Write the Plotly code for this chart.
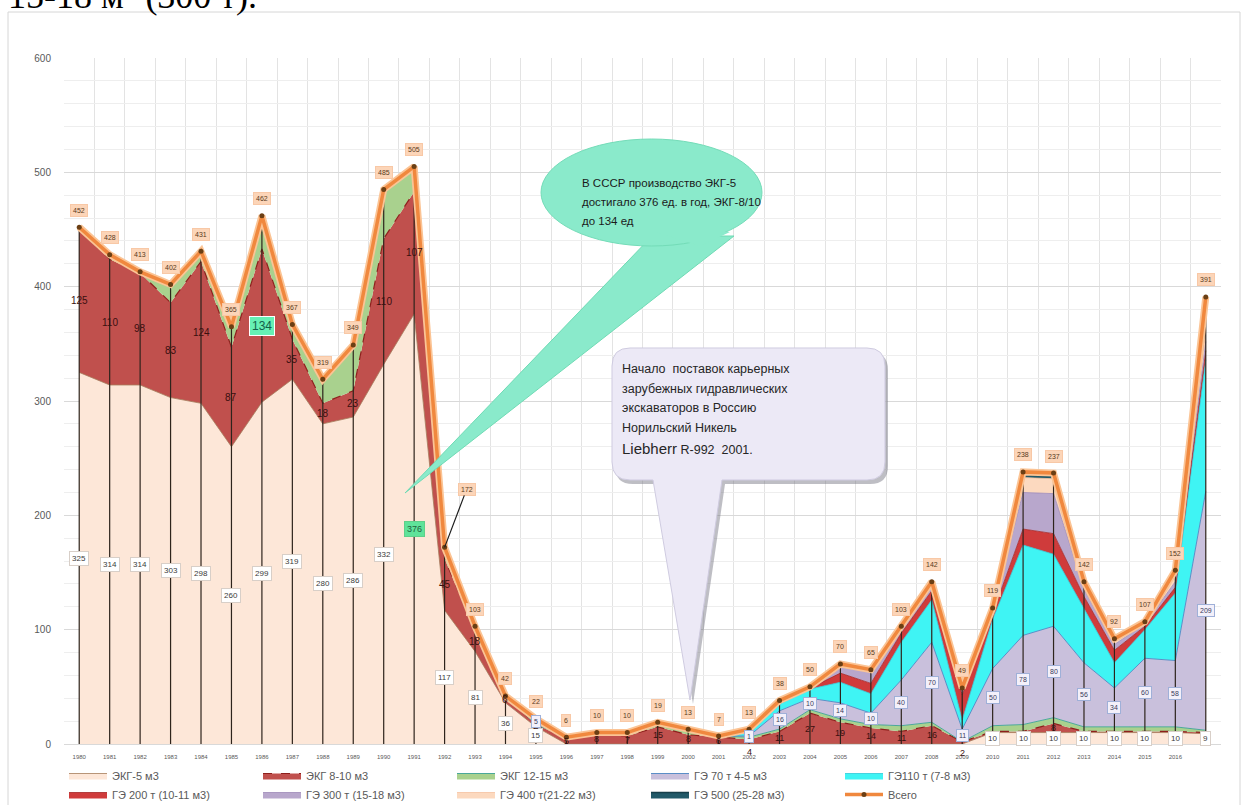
import plotly.graph_objects as go

# ---------------- data ----------------
years = [1980, 1981, 1982, 1983, 1984, 1985, 1986, 1987, 1988, 1989,
         1990, 1991, 1992, 1993, 1994, 1995, 1996, 1997, 1998, 1999,
         2000, 2001, 2002, 2003, 2004, 2005, 2006, 2007, 2008, 2009,
         2010, 2011, 2012, 2013, 2014, 2015, 2016, 2017]
tick_labels = ["1980", "1981", "1982", "1983", "1984", "1985", "1986", "1987", "1988", "1989",
               "1990", "1991", "1992", "1993", "1994", "1995", "1996", "1997", "1998", "1999",
               "2000", "2001", "2002", "2003", "2004", "2005", "2006", "2007", "2008", "2009",
               "2010", "2011", "2012", "2013", "2014", "2015", "2016", ""]

ekg5 = [325, 314, 314, 303, 298, 260, 299, 319, 280, 286, 332, 376, 117, 81, 36, 15,
        0, 0, 0, 0, 0, 0, 0, 0, 0, 0, 0, 0, 0, 0,
        10, 10, 10, 10, 10, 10, 10, 9]
ekg810 = [125, 110, 98, 83, 124, 87, 134, 35, 18, 23, 110, 107, 45, 18, 6, 2,
          5, 8, 7, 15, 8, 6, 4, 11, 27, 19, 14, 11, 16, 2,
          1, 1, 8, 1, 1, 1, 1, 1]
ekg1215 = [2, 4, 1, 16, 9, 18, 29, 13, 21, 40, 43, 22, 10, 4, 0, 0,
           1, 2, 3, 4, 5, 1, 2, 2, 3, 3, 3, 5, 3, 0,
           5, 6, 5, 4, 4, 4, 4, 2]
ge70 = [0, 0, 0, 0, 0, 0, 0, 0, 0, 0, 0, 0, 0, 0, 0, 5,
        0, 0, 0, 0, 0, 0, 1, 16, 10, 14, 10, 40, 70, 11,
        50, 78, 80, 56, 34, 60, 58, 209]
ge110 = [0, 0, 0, 0, 0, 0, 0, 0, 0, 0, 0, 0, 0, 0, 0, 0,
         0, 0, 0, 0, 0, 0, 3, 6, 8, 18, 17, 33, 37, 8,
         43, 79, 63, 48, 22, 25, 59, 115]
ge200 = [0, 0, 0, 0, 0, 0, 0, 0, 0, 0, 0, 0, 0, 0, 0, 0,
         0, 0, 0, 0, 0, 0, 0, 1, 1, 8, 9, 8, 8, 22,
         5, 14, 18, 10, 11, 3, 5, 8]
ge300 = [0, 0, 0, 0, 0, 0, 0, 0, 0, 0, 0, 0, 0, 0, 0, 0,
         0, 0, 0, 0, 0, 0, 0, 0, 1, 6, 10, 4, 5, 3,
         3, 32, 35, 7, 5, 2, 5, 8]
ge400 = [0, 0, 0, 0, 0, 0, 0, 0, 0, 0, 0, 0, 0, 0, 0, 0,
         0, 0, 0, 0, 0, 0, 3, 2, 0, 2, 2, 2, 3, 3,
         2, 13, 13, 5, 5, 2, 10, 10]
ge500 = [0, 0, 0, 0, 0, 0, 0, 0, 0, 0, 0, 0, 0, 0, 0, 0,
         0, 0, 0, 0, 0, 0, 0, 0, 0, 0, 0, 0, 0, 0,
         0, 5, 5, 1, 0, 0, 0, 29]
total = [452, 428, 413, 402, 431, 365, 462, 367, 319, 349, 485, 505, 172, 103, 42, 22,
         6, 10, 10, 19, 13, 7, 13, 38, 50, 70, 65, 103, 142, 49,
         119, 238, 237, 142, 92, 107, 152, 391]

series_names = ["ЭКГ-5 м3", "ЭКГ 8-10 м3", "ЭКГ 12-15 м3", "ГЭ 70 т 4-5 м3", "ГЭ110 т (7-8 м3)",
                "ГЭ 200 т (10-11 м3)", "ГЭ 300 т (15-18 м3)", "ГЭ 400 т(21-22 м3)", "ГЭ 500 (25-28 м3)"]
total_name = "Всего"

note_green = ["В СССР производство ЭКГ-5", "достигало 376 ед. в год, ЭКГ-8/10", "до 134 ед"]
note_grey = ["Начало  поставок карьерных", "зарубежных гидравлических", "экскаваторов в Россию",
             "Норильский Никель"]
note_grey_last = ("Liebherr", "R-992  2001.")
top_text = "15-18 м<sup>3</sup> (300 т)."

# ---------------- geometry helpers ----------------
W, H = 1246, 805
L, R, T, B = 64, 1221, 58, 744


def px(x):
    return (x - L) / (R - L)


def py(y):
    return (B - y) / (B - T)


# ---------------- figure ----------------
fig = go.Figure()

styles = [
    dict(fill="#fde7d8", line="#a67c5b", w=0.8, dash="solid"),
    dict(fill="#c0504d", line="#8e1f1c", w=1.2, dash="dash"),
    dict(fill="#a9d18e", line="#4aa89a", w=1.0, dash="solid"),
    dict(fill="#c9c0dc", line="#5b8ec7", w=1.0, dash="solid"),
    dict(fill="#3ff4f4", line="#30c8d8", w=0.8, dash="solid"),
    dict(fill="#cf3b3b", line="#a52626", w=0.8, dash="solid"),
    dict(fill="#b8a7cc", line="#9d89b8", w=0.8, dash="solid"),
    dict(fill="#fcd9bf", line="#f5c2a0", w=0.8, dash="solid"),
    dict(fill="#215968", line="#163f4a", w=1.5, dash="solid"),
]
data_series = [ekg5, ekg810, ekg1215, ge70, ge110, ge200, ge300, ge400, ge500]

for name, vals, st in zip(series_names, data_series, styles):
    fig.add_trace(go.Scatter(
        x=years, y=vals, name=name, mode="lines", stackgroup="one",
        fillcolor=st["fill"], line=dict(color=st["line"], width=st["w"], dash=st["dash"]),
        hoverinfo="skip"))

# drop lines from the axis to each total point
dx, dy = [], []
for yr, tv in zip(years, total):
    dx += [yr, yr, None]
    dy += [0, tv, None]
fig.add_trace(go.Scatter(x=dx, y=dy, mode="lines", line=dict(color="#2e241c", width=1.2),
                         showlegend=False, hoverinfo="skip"))

fig.add_trace(go.Scatter(x=years, y=total, mode="lines", line=dict(color="#fbc495", width=7),
                         showlegend=False, hoverinfo="skip"))
fig.add_trace(go.Scatter(x=years, y=total, name=total_name, mode="lines+markers",
                         line=dict(color="#f0883e", width=3.5),
                         marker=dict(color="#6b3f14", size=5), hoverinfo="skip"))

# ---------------- data labels ----------------
ann = []
cum1 = [a for a in ekg5]
cum2 = [a + b for a, b in zip(cum1, ekg810)]
cum3 = [a + b for a, b in zip(cum2, ekg1215)]

for i, yr in enumerate(years):
    v = ekg5[i]
    if v > 0:
        hl = (yr == 1991)
        ann.append(dict(x=yr, y=v / 2, text=str(v), showarrow=False,
                        font=dict(size=9 if hl else 8, color="#1f5f3f" if hl else "#3b3b3b",
                                  family="Liberation Sans"),
                        bgcolor="#5fe39a" if hl else "#ffffff",
                        bordercolor="#5fd08a" if hl else "#d8cfc8", borderwidth=1, borderpad=2))
    v = ekg810[i]
    if v >= 2 and (yr <= 2009 or v >= 5):
        hl = (yr == 1986)
        low = (yr >= 2002 and v <= 4)
        ann.append(dict(x=yr, y=cum1[i] + v / 2, text=str(v), showarrow=False,
                        yshift=-10 if low else 0,
                        font=dict(size=12 if hl else (10 if yr <= 1995 else 9),
                                  color="#12604a" if hl else "#3a0f0f", family="Liberation Sans"),
                        bgcolor="#66f0b4" if hl else "rgba(0,0,0,0)",
                        bordercolor="#ffffff" if hl else "rgba(0,0,0,0)",
                        borderwidth=1, borderpad=2))
    v = ge70[i]
    if v > 0:
        ann.append(dict(x=yr, y=cum3[i] + v / 2, text=str(v), showarrow=False,
                        font=dict(size=7, color="#3b3b5b", family="Liberation Sans"),
                        bgcolor="#f3f0fa", bordercolor="#9fb0d8", borderwidth=1, borderpad=2))
    tv = total[i]
    if yr == 1992:
        ann.append(dict(x=yr, y=tv, text=str(tv), showarrow=True, arrowhead=0, arrowwidth=1.2,
                        arrowcolor="#1e1e1e", ax=22, ay=-58,
                        font=dict(size=7, color="#5a3a1a", family="Liberation Sans"),
                        bgcolor="#fcd5b8", bordercolor="#f8c8a6", borderwidth=1, borderpad=2))
    else:
        ann.append(dict(x=yr, y=tv, yshift=17, text=str(tv), showarrow=False,
                        font=dict(size=7, color="#5a3a1a", family="Liberation Sans"),
                        bgcolor="#fcd5b8", bordercolor="#f8c8a6", borderwidth=1, borderpad=2))

# ---------------- callouts ----------------
shapes = []
shapes.append(dict(type="rect", xref="paper", yref="paper", x0=px(8), x1=px(1240),
                   y0=py(808), y1=py(12), line=dict(color="#d6d6d6", width=1), layer="below"))


def path_pts(pts):
    s = ""
    for k, (a, b) in enumerate(pts):
        s += ("M" if k == 0 else "L") + f"{px(a):.5f},{py(b):.5f} "
    return s + "Z"


green = "#8aeacb"
shapes.append(dict(type="path", xref="paper", yref="paper",
                   path=path_pts([(652, 236), (734, 236), (405, 493)]),
                   fillcolor=green, line=dict(color="#6fdab4", width=1), layer="above"))
shapes.append(dict(type="circle", xref="paper", yref="paper", x0=px(541), x1=px(762),
                   y0=py(246), y1=py(139), fillcolor=green, line=dict(color="#74dcb8", width=1),
                   layer="above"))
shapes.append(dict(type="path", xref="paper", yref="paper",
                   path=path_pts([(656, 232), (730, 232), (700, 246)]),
                   fillcolor=green, line=dict(width=0), layer="above"))


def bubble(x0, y0, x1, y1, r, xa, xb, tx, ty, dxs=0, dys=0):
    P = lambda a, b: f"{px(a + dxs):.5f},{py(b + dys):.5f}"
    return ("M" + P(x0 + r, y0) + " L" + P(x1 - r, y0) + " Q" + P(x1, y0) + " " + P(x1, y0 + r) +
            " L" + P(x1, y1 - r) + " Q" + P(x1, y1) + " " + P(x1 - r, y1) +
            " L" + P(xb, y1) + " L" + P(tx, ty) + " L" + P(xa, y1) +
            " L" + P(x0 + r, y1) + " Q" + P(x0, y1) + " " + P(x0, y1 - r) +
            " L" + P(x0, y0 + r) + " Q" + P(x0, y0) + " " + P(x0 + r, y0) + " Z")


shapes.append(dict(type="path", xref="paper", yref="paper",
                   path=bubble(612, 348, 885, 480, 18, 653, 722, 690, 700, 3, 4),
                   fillcolor="rgba(110,110,125,0.45)", line=dict(width=0), layer="above"))
shapes.append(dict(type="path", xref="paper", yref="paper",
                   path=bubble(612, 348, 885, 480, 18, 653, 722, 690, 700),
                   fillcolor="#ece9f6", line=dict(color="#cfcbe0", width=1), layer="above"))

for k, line in enumerate(note_green):
    ann.append(dict(xref="paper", yref="paper", x=px(580), y=py(183 + 19 * k), text=line,
                    showarrow=False, xanchor="left", yanchor="middle",
                    font=dict(size=11.5, color="#1b1b1b", family="Liberation Sans")))
for k, line in enumerate(note_grey):
    ann.append(dict(xref="paper", yref="paper", x=px(620), y=py(369 + 19.5 * k), text=line,
                    showarrow=False, xanchor="left", yanchor="middle",
                    font=dict(size=12.5, color="#262626", family="Liberation Sans")))
ann.append(dict(xref="paper", yref="paper", x=px(620), y=py(448),
                text=f"<span style='font-size:15px'>{note_grey_last[0]}</span> {note_grey_last[1]}",
                showarrow=False, xanchor="left", yanchor="middle",
                font=dict(size=12.5, color="#262626", family="Liberation Sans")))

ann.append(dict(xref="paper", yref="paper", x=px(6), y=py(-6), text=top_text, showarrow=False,
                xanchor="left", yanchor="middle",
                font=dict(size=36, color="#000000", family="Liberation Serif")))

fig.update_layout(
    width=W, height=H,
    margin=dict(l=L, r=W - R, t=T, b=H - B, autoexpand=False),
    paper_bgcolor="#ffffff", plot_bgcolor="#ffffff",
    showlegend=True,
    legend=dict(orientation="h", x=0, y=py(761), xanchor="left", yanchor="top",
                traceorder="normal", entrywidth=141, entrywidthmode="pixels",
                font=dict(size=11, color="#595959", family="Liberation Sans"),
                itemwidth=38, tracegroupgap=0, bgcolor="rgba(0,0,0,0)"),
    xaxis=dict(range=[1979.5, 2017.5], tickmode="array", tickvals=years, ticktext=tick_labels,
               tickfont=dict(size=6, color="#595959", family="Liberation Sans"),
               ticklabelstandoff=7,
               showgrid=False, zeroline=False,
               showline=True, linecolor="#d9d9d9", ticks="",
               minor=dict(tick0=1979.5, dtick=1, showgrid=True, gridcolor="#e3e3e3")),
    yaxis=dict(range=[0, 600], dtick=100, tick0=0,
               tickfont=dict(size=10, color="#595959", family="Liberation Sans"),
               ticklabelstandoff=12,
               showgrid=True, gridcolor="#d9d9d9", gridwidth=1, zeroline=False,
               showline=False, ticks="",
               minor=dict(dtick=20, showgrid=True, gridcolor="#eeeeee")),
    shapes=shapes,
    annotations=ann,
)

fig.write_html("out.html", config={"displayModeBar": False},
               post_script="document.body.style.margin='0px';")
